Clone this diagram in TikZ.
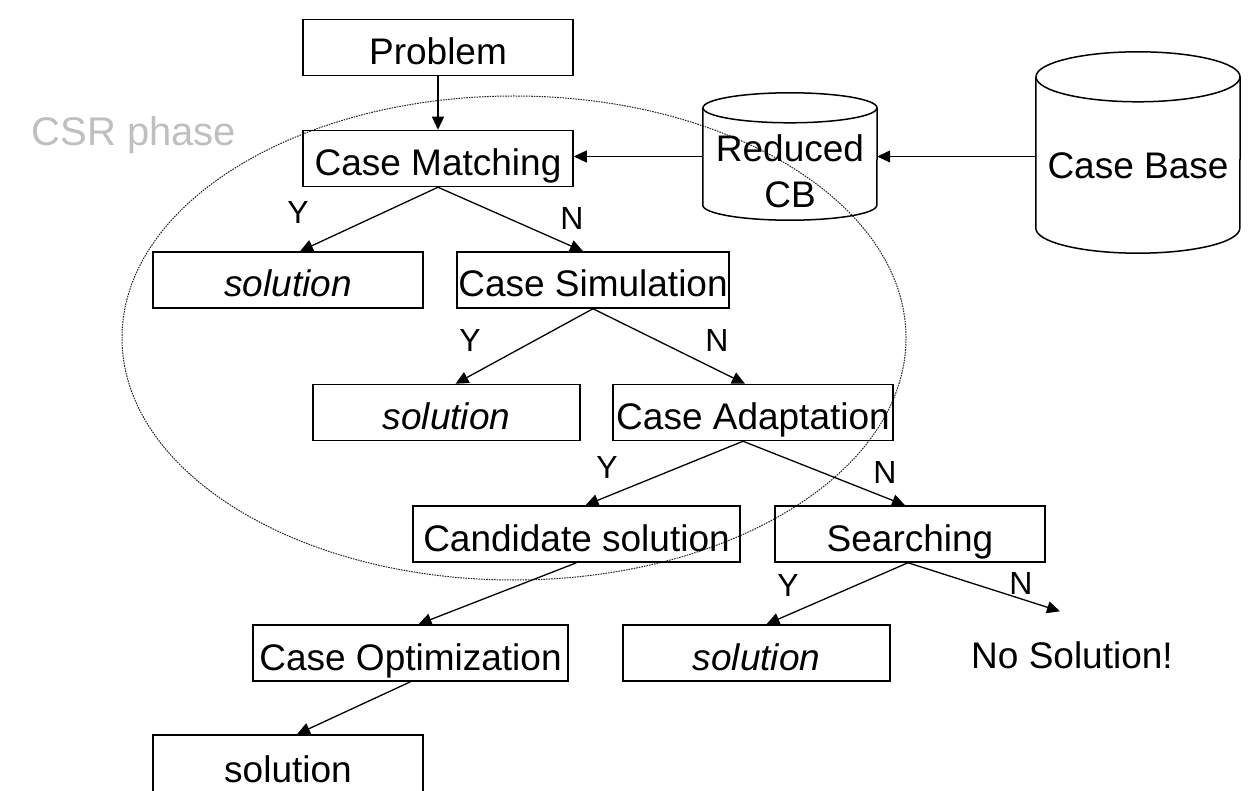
\documentclass[tikz,border=0pt]{standalone}
\usepackage{fontspec}
\setmainfont{Liberation Sans}
\usetikzlibrary{arrows.meta,calc}
\begin{document}
\begin{tikzpicture}[x=1pt,y=1pt,
  txt/.style={inner sep=0pt, font=\fontsize{37}{46}\selectfont, text height=36pt, text depth=2pt},
  box/.style={txt, draw, line width=1.5pt, minimum height=56pt},
  lab/.style={inner sep=0pt, font=\fontsize{32}{38}\selectfont},
  arr/.style={-{Triangle[length=13pt,width=12pt]}, line width=1.3pt},
  cyl/.style={line width=1.5pt},
  csrline/.style={line width=1pt, black!85, dash pattern=on 1.6pt off 1pt},
  csrtext/.style={inner sep=0pt, gray!50, font=\fontsize{40}{48}\selectfont}]
\useasboundingbox (0,0) rectangle (1252,-791);

% CSR phase region
\draw[csrline] (514,-338) ellipse[x radius=392pt, y radius=242pt];
\node[csrtext] (csr) at (134,-135) {CSR phase};

% boxes
\node[box, minimum width=270pt] (prob) at (438,-47.5) {Problem};
\node[box, minimum width=270pt] (cm) at (438,-158.5) {Case Matching};
\node[box, minimum width=270pt] (sol1) at (288,-280) {\itshape solution};
\node[box, minimum width=272pt] (cs) at (593,-280) {Case Simulation};
\node[box, minimum width=267pt] (sol2) at (446.5,-412.5) {\itshape solution};
\node[box, minimum width=280pt] (ca) at (753,-412.5) {Case Adaptation};
\node[box, minimum width=327pt] (cand) at (576.5,-534) {Candidate solution};
\node[box, minimum width=270pt] (srch) at (910,-534) {Searching};
\node[box, minimum width=315pt] (co) at (410.5,-653) {Case Optimization};
\node[box, minimum width=267pt] (sol3) at (756.5,-653) {\itshape solution};
\node[txt] (nosol) at (1072,-651.5) {No Solution!};
\node[box, minimum width=270pt, minimum height=60pt] (sol4) at (288,-765) {solution};

% cylinders
\node[minimum width=174pt, minimum height=127pt, inner sep=0pt] (rcb) at (790,-156.5) {};
\draw[cyl] ([yshift=-15pt]rcb.north west) -- ([yshift=15pt]rcb.south west)
  arc[start angle=180, end angle=360, x radius=87pt, y radius=15pt]
  -- ([yshift=-15pt]rcb.north east);
\draw[cyl] ([yshift=-15pt]rcb.north) ellipse[x radius=87pt, y radius=15pt];
\node[txt, align=center, text height=, text depth=] (rcbt) at (790,-171) {Reduced\\CB};

\node[minimum width=204pt, minimum height=201pt, inner sep=0pt] (cb) at (1138,-152.5) {};
\draw[cyl] ([yshift=-25pt]cb.north west) -- ([yshift=25pt]cb.south west)
  arc[start angle=180, end angle=360, x radius=102pt, y radius=25pt]
  -- ([yshift=-25pt]cb.north east);
\draw[cyl] ([yshift=-25pt]cb.north) ellipse[x radius=102pt, y radius=25pt];
\node[txt] (cbt) at (1138,-162) {Case Base};

% connectors
\draw[arr] (prob.south) -- (cm.north);
\draw[arr] (rcb.west) -- (cm.east |- rcb.west);
\draw[arr] (cb.west |- rcb.east) -- (rcb.east);
\draw[arr] (cm.south) -- ([xshift=12pt]sol1.north);
\draw[arr] (cm.south) -- ([xshift=-10pt]cs.north);
\draw[arr] (cs.south) -- ([xshift=9pt]sol2.north);
\draw[arr] (cs.south) -- ([xshift=-8pt]ca.north);
\draw[arr] ([xshift=-10pt]ca.south) -- ([xshift=9pt]cand.north);
\draw[arr] ([xshift=-10pt]ca.south) -- ([xshift=-5pt]srch.north);
\draw[arr] (cand.south) -- ([xshift=8pt]co.north);
\draw[arr] ([xshift=-2pt]srch.south) -- ([xshift=10pt]sol3.north);
\draw[arr] ([xshift=-2pt]srch.south) -- ([xshift=-12pt,yshift=21pt]nosol.north);
\draw[arr] (co.south) -- ([xshift=9pt]sol4.north);

% labels
\node[lab] (y1) at (298,-212) {Y};
\node[lab] (n1) at (572,-218) {N};
\node[lab] (y2) at (470,-340) {Y};
\node[lab] (n2) at (717,-340) {N};
\node[lab] (y3) at (607,-467) {Y};
\node[lab] (n3) at (885,-472) {N};
\node[lab] (y4) at (788,-585) {Y};
\node[lab] (n4) at (1021,-583) {N};
\end{tikzpicture}
\end{document}
